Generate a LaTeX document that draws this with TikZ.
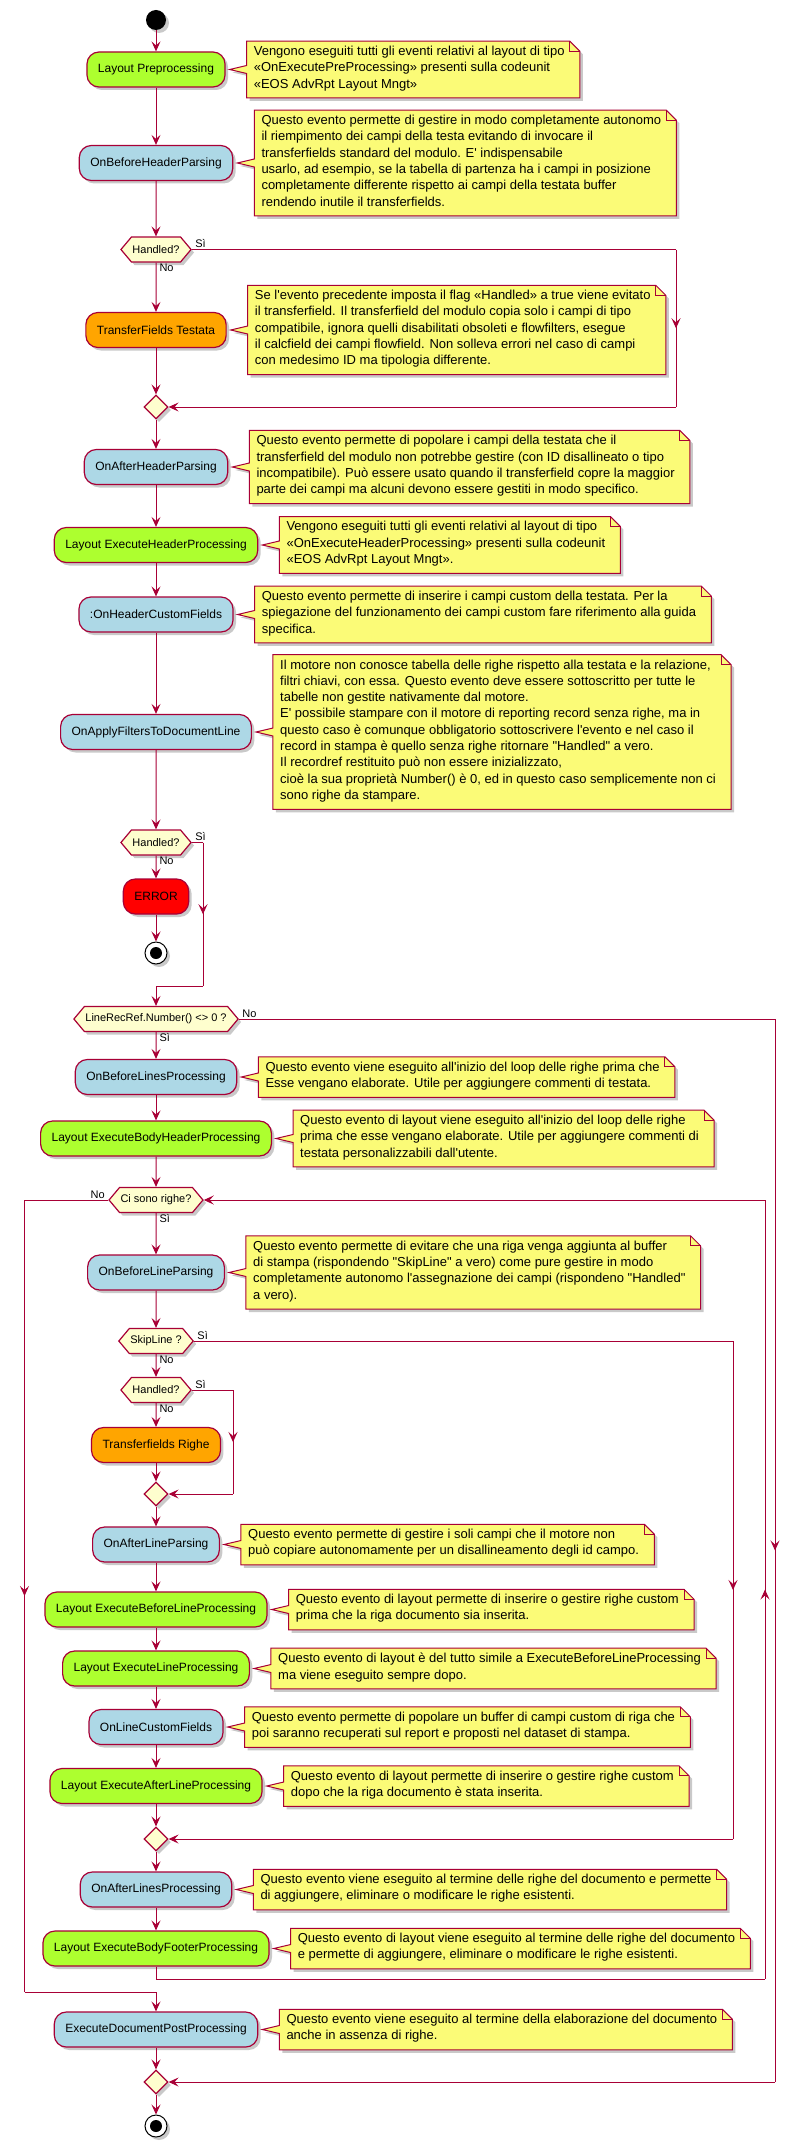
\documentclass[tikz,border=0pt]{standalone}
\usepackage{fontspec}
\usepackage{tikz}
\usetikzlibrary{positioning,shapes.geometric,shapes.symbols,arrows.meta,calc,shadows,backgrounds,decorations.markings}
\newfontfamily\pufont{Liberation Sans}

\definecolor{puborder}{HTML}{A80036}
\definecolor{pugreen}{HTML}{ADFF2F}
\definecolor{publue}{HTML}{ADD8E6}
\definecolor{puorange}{HTML}{FFA500}
\definecolor{pured}{HTML}{FF0000}
\definecolor{punote}{HTML}{FBFB77}
\definecolor{puhex}{HTML}{FEFECE}

\tikzset{
  putip/.tip={Stealth[length=10pt,width=9pt,inset=4pt]},
  pushadow/.style={drop shadow={shadow xshift=3pt,shadow yshift=-3pt,opacity=0.3,fill=black!70}},
  act/.style={rectangle, rounded corners=12pt, draw=puborder, line width=1.2pt,
    minimum height=35pt, inner xsep=11pt, inner ysep=0pt,
    font=\pufont\fontsize{12}{14}\selectfont, pushadow},
  decision/.style={signal, signal to=east and west, signal pointer angle=100,
    draw=puborder, fill=puhex, line width=1.2pt, minimum height=25pt,
    inner xsep=1pt, inner ysep=0pt, font=\pufont\fontsize{11}{13}\selectfont, pushadow},
  merge/.style={diamond, draw=puborder, fill=puhex, line width=1.2pt,
    minimum width=24pt, minimum height=24pt, inner sep=0pt, pushadow},
  startnode/.style={circle, fill=black, minimum size=20pt, inner sep=0pt, pushadow},
  stopnode/.style={circle, draw=black, fill=white, line width=1pt, minimum size=22pt,
    inner sep=0pt, pushadow,
    path picture={\fill[black] (path picture bounding box.center) circle (6pt);}},
  notetext/.style={align=left, inner xsep=7pt, inner ysep=4.75pt,
    font=\pufont\fontsize{13}{16.3}\selectfont,
    execute at begin node=\strut, execute at end node=\strut},
  notebg/.style={fill=punote, draw=puborder, line width=1pt, pushadow},
  lbl/.style={font=\pufont\fontsize{11}{13}\selectfont, inner sep=1pt},
  line/.style={draw=puborder, line width=1pt},
  flow/.style={line, -putip},
  midarr/.style={postaction={decorate}, decoration={markings,
    mark=at position 0.5 with {\arrow[puborder]{putip}}}}
}

\begin{document}
\begin{tikzpicture}[x=1pt, y=-1pt]
  \useasboundingbox (0,0) rectangle (791,2146);

  % Nodes
  \node[startnode] (start) at (156,20) {};
  \node[act, fill=pugreen] (LP) at (156,69.5) {Layout Preprocessing};
  \node[act, fill=publue] (OBHP) at (156,163) {OnBeforeHeaderParsing};
  \node[decision] (H1) at (156,249.5) {Handled?};
  \node[act, fill=puorange] (TFT) at (156,330) {TransferFields Testata};
  \node[merge] (M1) at (156,407) {};
  \node[act, fill=publue] (OAHP) at (156,467) {OnAfterHeaderParsing};
  \node[act, fill=pugreen] (LEHP) at (156,545) {Layout ExecuteHeaderProcessing};
  \node[act, fill=publue] (OHCF) at (156,614.5) {:OnHeaderCustomFields};
  \node[act, fill=publue] (OAFDL) at (156,732) {OnApplyFiltersToDocumentLine};
  \node[decision] (H2) at (156,842.5) {Handled?};
  \node[act, fill=pured] (ERR) at (156,896.5) {ERROR};
  \node[stopnode] (stop1) at (156,953) {};
  \node[decision] (LRR) at (156,1019) {LineRecRef.Number() <> 0 ?};
  \node[act, fill=publue] (OBLP) at (156,1077) {OnBeforeLinesProcessing};
  \node[act, fill=pugreen] (LEBHP) at (156,1138.5) {Layout ExecuteBodyHeaderProcessing};
  \node[decision] (CSR) at (156,1200) {Ci sono righe?};
  \node[act, fill=publue] (OBLPa) at (156,1272.5) {OnBeforeLineParsing};
  \node[decision] (SL) at (156,1341) {SkipLine ?};
  \node[decision] (H3) at (156,1390) {Handled?};
  \node[act, fill=puorange] (TFR) at (156,1445) {Transferfields Righe};
  \node[merge] (M2) at (156,1494) {};
  \node[act, fill=publue] (OALP) at (156,1544.5) {OnAfterLineParsing};
  \node[act, fill=pugreen] (LEBLP) at (156,1609.5) {Layout ExecuteBeforeLineProcessing};
  \node[act, fill=pugreen] (LELP) at (156,1668.5) {Layout ExecuteLineProcessing};
  \node[act, fill=publue] (OLCF) at (156,1727) {OnLineCustomFields};
  \node[act, fill=pugreen] (LEALP) at (156,1786) {Layout ExecuteAfterLineProcessing};
  \node[merge] (M3) at (156,1839) {};
  \node[act, fill=publue] (OALsP) at (156,1889.5) {OnAfterLinesProcessing};
  \node[act, fill=pugreen] (LEBFP) at (156,1948.5) {Layout ExecuteBodyFooterProcessing};
  \node[act, fill=publue] (EDPP) at (156,2029.5) {ExecuteDocumentPostProcessing};
  \node[merge] (MF) at (156,2082) {};
  \node[stopnode] (stop2) at (156,2126) {};

  % Notes
  \node[notetext, right=21pt of LP] (nLP) {Vengono eseguiti tutti gli eventi relativi al layout di tipo\\«OnExecutePreProcessing» presenti sulla codeunit\\«EOS AdvRpt Layout Mngt»};
  \node[notetext, right=21pt of OBHP] (nOBHP) {Questo evento permette di gestire in modo completamente autonomo\\il riempimento dei campi della testa evitando di invocare il\\transferfields standard del modulo. E' indispensabile\\usarlo, ad esempio, se la tabella di partenza ha i campi in posizione\\completamente differente rispetto ai campi della testata buffer\\rendendo inutile il transferfields.};
  \node[notetext, right=21pt of TFT] (nTFT) {Se l'evento precedente imposta il flag «Handled» a true viene evitato\\il transferfield. Il transferfield del modulo copia solo i campi di tipo\\compatibile, ignora quelli disabilitati obsoleti e flowfilters, esegue\\il calcfield dei campi flowfield. Non solleva errori nel caso di campi\\con medesimo ID ma tipologia differente.};
  \node[notetext, right=21pt of OAHP] (nOAHP) {Questo evento permette di popolare i campi della testata che il\\transferfield del modulo non potrebbe gestire (con ID disallineato o tipo\\incompatibile). Può essere usato quando il transferfield copre la maggior\\parte dei campi ma alcuni devono essere gestiti in modo specifico.};
  \node[notetext, right=21pt of LEHP] (nLEHP) {Vengono eseguiti tutti gli eventi relativi al layout di tipo\\«OnExecuteHeaderProcessing» presenti sulla codeunit\\«EOS AdvRpt Layout Mngt».};
  \node[notetext, right=21pt of OHCF] (nOHCF) {Questo evento permette di inserire i campi custom della testata. Per la\\spiegazione del funzionamento dei campi custom fare riferimento alla guida\\specifica.};
  \node[notetext, right=21pt of OAFDL] (nOAFDL) {Il motore non conosce tabella delle righe rispetto alla testata e la relazione,\\filtri chiavi, con essa. Questo evento deve essere sottoscritto per tutte le\\tabelle non gestite nativamente dal motore.\\E' possibile stampare con il motore di reporting record senza righe, ma in\\questo caso è comunque obbligatorio sottoscrivere l'evento e nel caso il\\record in stampa è quello senza righe ritornare "Handled" a vero.\\Il recordref restituito può non essere inizializzato,\\cioè la sua proprietà Number() è 0, ed in questo caso semplicemente non ci\\sono righe da stampare.};
  \node[notetext, right=21pt of OBLP] (nOBLP) {Questo evento viene eseguito all'inizio del loop delle righe prima che\\Esse vengano elaborate. Utile per aggiungere commenti di testata.};
  \node[notetext, right=21pt of LEBHP] (nLEBHP) {Questo evento di layout viene eseguito all'inizio del loop delle righe\\prima che esse vengano elaborate. Utile per aggiungere commenti di\\testata personalizzabili dall'utente.};
  \node[notetext, right=21pt of OBLPa] (nOBLPa) {Questo evento permette di evitare che una riga venga aggiunta al buffer\\di stampa (rispondendo "SkipLine" a vero) come pure gestire in modo\\completamente autonomo l'assegnazione dei campi (rispondeno "Handled"\\a vero).};
  \node[notetext, right=21pt of OALP] (nOALP) {Questo evento permette di gestire i soli campi che il motore non\\può copiare autonomamente per un disallineamento degli id campo.};
  \node[notetext, right=21pt of LEBLP] (nLEBLP) {Questo evento di layout permette di inserire o gestire righe custom\\prima che la riga documento sia inserita.};
  \node[notetext, right=21pt of LELP] (nLELP) {Questo evento di layout è del tutto simile a ExecuteBeforeLineProcessing\\ma viene eseguito sempre dopo.};
  \node[notetext, right=21pt of OLCF] (nOLCF) {Questo evento permette di popolare un buffer di campi custom di riga che\\poi saranno recuperati sul report e proposti nel dataset di stampa.};
  \node[notetext, right=21pt of LEALP] (nLEALP) {Questo evento di layout permette di inserire o gestire righe custom\\dopo che la riga documento è stata inserita.};
  \node[notetext, right=21pt of OALsP] (nOALsP) {Questo evento viene eseguito al termine delle righe del documento e permette\\di aggiungere, eliminare o modificare le righe esistenti.};
  \node[notetext, right=21pt of LEBFP] (nLEBFP) {Questo evento di layout viene eseguito al termine delle righe del documento\\e permette di aggiungere, eliminare o modificare le righe esistenti.};
  \node[notetext, right=21pt of EDPP] (nEDPP) {Questo evento viene eseguito al termine della elaborazione del documento\\anche in assenza di righe.};

  % Note outlines
  \begin{scope}[on background layer]
    \foreach \n in {nLP,nOBHP,nTFT,nOAHP,nLEHP,nOHCF,nOAFDL,nOBLP,nLEBHP,nOBLPa,nOALP,nLEBLP,nLELP,nOLCF,nLEALP,nOALsP,nLEBFP,nEDPP} {
      \path[notebg] (\n.north west) -- ($(\n.north east)+(-2,0)$) -- ($(\n.north east)+(8,10)$)
        -- ($(\n.south east)+(8,0)$) -- (\n.south west) -- ($(\n.west)+(0,4)$)
        -- ($(\n.west)+(-17,0)$) -- ($(\n.west)+(0,-4)$) -- cycle;
      \draw[line] ($(\n.north east)+(-2,0)$) -- ($(\n.north east)+(-2,10)$) -- ($(\n.north east)+(8,10)$);
    }
  \end{scope}

  % Bend points
  \coordinate (h1r) at (676,249.5);
  \coordinate (m1r) at (676,407);
  \coordinate (h2r) at (203,842.5);
  \coordinate (h2d) at (203,986);
  \coordinate (h2j) at (156,986);
  \coordinate (lrr) at (775,1019);
  \coordinate (mfr) at (775,2082);
  \coordinate (csl) at (24.5,1200);
  \coordinate (csb) at (24.5,1992);
  \coordinate (csj) at (156,1992);
  \coordinate (lbb) at (156,1979);
  \coordinate (lbr) at (765,1979);
  \coordinate (lbt) at (765,1200);
  \coordinate (slr) at (733,1341);
  \coordinate (m3r) at (733,1839);
  \coordinate (h3r) at (233,1390);
  \coordinate (m2r) at (233,1494);

  % Arrows
  \draw[flow] (start) -- (LP);
  \draw[flow] (LP) -- (OBHP);
  \draw[flow] (OBHP) -- (H1);
  \draw[flow] (H1) -- (TFT) node[lbl, pos=0, anchor=north west, xshift=2pt] {No};
  \draw[flow] (TFT) -- (M1);
  \draw[line] (H1.east) node[lbl, anchor=south west, xshift=2pt] {Sì} -- (h1r);
  \draw[line, midarr] (h1r) -- (m1r);
  \draw[flow] (m1r) -- (M1.east);
  \draw[flow] (M1) -- (OAHP);
  \draw[flow] (OAHP) -- (LEHP);
  \draw[flow] (LEHP) -- (OHCF);
  \draw[flow] (OHCF) -- (OAFDL);
  \draw[flow] (OAFDL) -- (H2);
  \draw[flow] (H2) -- (ERR) node[lbl, pos=0, anchor=north west, xshift=2pt] {No};
  \draw[flow] (ERR) -- (stop1);
  \draw[line] (H2.east) node[lbl, anchor=south west, xshift=2pt] {Sì} -- (h2r);
  \draw[line, midarr] (h2r) -- (h2d);
  \draw[flow] (h2d) -- (h2j) -- (LRR.north);
  \draw[flow] (LRR) -- (OBLP) node[lbl, pos=0, anchor=north west, xshift=2pt] {Sì};
  \draw[line] (LRR.east) node[lbl, anchor=south west, xshift=2pt] {No} -- (lrr);
  \draw[line, midarr] (lrr) -- (mfr);
  \draw[flow] (mfr) -- (MF.east);
  \draw[flow] (OBLP) -- (LEBHP);
  \draw[flow] (LEBHP) -- (CSR);
  \draw[flow] (CSR) -- (OBLPa) node[lbl, pos=0, anchor=north west, xshift=2pt] {Sì};
  \draw[line] (CSR.west) node[lbl, anchor=south east, xshift=-2pt] {No} -- (csl);
  \draw[line, midarr] (csl) -- (csb);
  \draw[flow] (csb) -- (csj) -- (EDPP.north);
  \draw[flow] (OBLPa) -- (SL);
  \draw[flow] (SL) -- (H3) node[lbl, pos=0, anchor=north west, xshift=2pt] {No};
  \draw[line] (SL.east) node[lbl, anchor=south west, xshift=2pt] {Sì} -- (slr);
  \draw[line, midarr] (slr) -- (m3r);
  \draw[flow] (m3r) -- (M3.east);
  \draw[flow] (H3) -- (TFR) node[lbl, pos=0, anchor=north west, xshift=2pt] {No};
  \draw[flow] (TFR) -- (M2);
  \draw[line] (H3.east) node[lbl, anchor=south west, xshift=2pt] {Sì} -- (h3r);
  \draw[line, midarr] (h3r) -- (m2r);
  \draw[flow] (m2r) -- (M2.east);
  \draw[flow] (M2) -- (OALP);
  \draw[flow] (OALP) -- (LEBLP);
  \draw[flow] (LEBLP) -- (LELP);
  \draw[flow] (LELP) -- (OLCF);
  \draw[flow] (OLCF) -- (LEALP);
  \draw[flow] (LEALP) -- (M3);
  \draw[flow] (M3) -- (OALsP);
  \draw[flow] (OALsP) -- (LEBFP);
  \draw[line] (LEBFP.south) -- (lbb) -- (lbr);
  \draw[line, midarr] (lbr) -- (lbt);
  \draw[flow] (lbt) -- (CSR.east);
  \draw[flow] (EDPP) -- (MF);
  \draw[flow] (MF) -- (stop2);
\end{tikzpicture}
\end{document}
